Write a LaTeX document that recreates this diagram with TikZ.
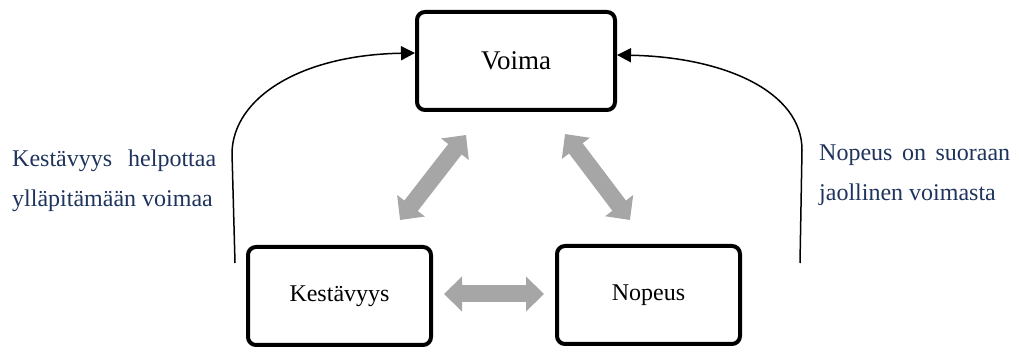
\documentclass[tikz,border=0pt]{standalone}
\usepackage{fontspec}
\setmainfont{Liberation Serif}
\usetikzlibrary{arrows.meta}
\definecolor{boxgray}{RGB}{166,166,166}
\definecolor{labelblue}{RGB}{31,52,92}
\begin{document}
\begin{tikzpicture}[x=1pt,y=-1pt,
  ominaisuus/.style={draw=black, line width=4pt, rounded corners=8pt,
    minimum width=183pt, minimum height=98pt, inner sep=0pt,
    font=\fontsize{24}{28}\selectfont},
  vuorovaikutus/.style={draw=boxgray, line width=17pt,
    {Triangle[length=18pt,width=34pt]}-{Triangle[length=18pt,width=34pt]}},
  vaikutus/.style={draw=black, line width=1.5pt,
    -{Triangle[length=14pt,width=14pt]}},
  selite/.style={anchor=base west, align=left, text=labelblue, inner sep=0pt,
    font=\fontsize{24}{40}\selectfont}]
  \useasboundingbox (0,0) rectangle (1015,347);

  % the three qualities
  \node[ominaisuus, minimum width=198pt, font=\fontsize{27}{30}\selectfont]
    (voima) at (516,61) {Voima};
  \node[ominaisuus] (kestavyys) at (339.5,296) {Kestävyys};
  \node[ominaisuus] (nopeus) at (648.5,295) {Nopeus};

  % end points of the two-way links
  \coordinate (kv1) at (400,220);
  \coordinate (kv2) at (466,135);
  \coordinate (nv1) at (630,220);
  \coordinate (nv2) at (565,134);
  \coordinate (kn1) at (444,294);
  \coordinate (kn2) at (544,294);

  \draw[vuorovaikutus] (kv1) -- (kv2);
  \draw[vuorovaikutus] (nv1) -- (nv2);
  \draw[vuorovaikutus] (kn1) -- (kn2);

  % curved influence arrows into Voima
  \coordinate (kalku) at (235,263);
  \coordinate (nalku) at (800,263);
  \draw[vaikutus] (kalku) -- (232,153)
    .. controls (233,98) and (300,55) .. (voima.west |- 0,53);
  \draw[vaikutus] (nalku) -- (802,150)
    .. controls (802,92) and (725,57) .. (voima.east |- 0,55);

  % explanations (base anchor sits on the last line)
  \node[selite] (kselite) at (12,207)
    {\makebox[204pt][s]{Kestävyys helpottaa}\\ylläpitämään voimaa};
  \node[selite] (nselite) at (819,201)
    {\makebox[191pt][s]{Nopeus on suoraan}\\jaollinen voimasta};
\end{tikzpicture}
\end{document}
